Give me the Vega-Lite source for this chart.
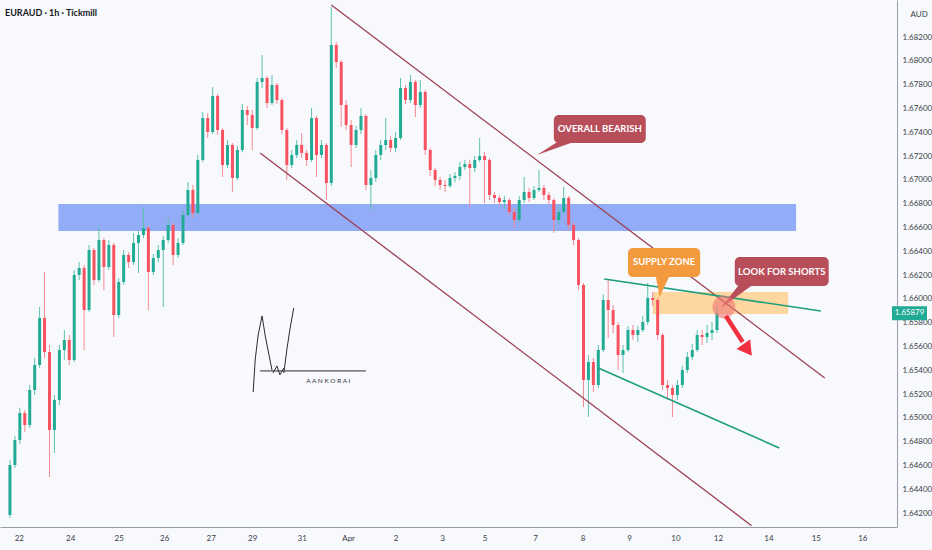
{
  "$schema": "https://vega.github.io/schema/vega-lite/v6.json",
  "width": 897,
  "height": 527,
  "autosize": {"type": "none"},
  "padding": {"left": 0, "top": 0, "right": 35, "bottom": 23},
  "background": "#f8f9fd",
  "title": {
    "text": "EURAUD · 1h · Tickmill",
    "anchor": "start",
    "frame": "group",
    "orient": "top",
    "offset": -18,
    "dx": 5,
    "fontSize": 9,
    "fontWeight": "bold",
    "color": "#131722"
  },
  "datasets": {
    "candles": [
      {"x":1,"o":1.64185,"h":1.64647,"l":1.64160,"c":1.64605},
      {"x":2,"o":1.64605,"h":1.64849,"l":1.64580,"c":1.64815},
      {"x":3,"o":1.64815,"h":1.65084,"l":1.64781,"c":1.65042},
      {"x":4,"o":1.65042,"h":1.65067,"l":1.64882,"c":1.64941},
      {"x":5,"o":1.64941,"h":1.65277,"l":1.64916,"c":1.65235},
      {"x":6,"o":1.65235,"h":1.65504,"l":1.65193,"c":1.65445},
      {"x":7,"o":1.65445,"h":1.65932,"l":1.65420,"c":1.65840},
      {"x":8,"o":1.65840,"h":1.66226,"l":1.65504,"c":1.65554},
      {"x":9,"o":1.65554,"h":1.65613,"l":1.64504,"c":1.64899},
      {"x":10,"o":1.64899,"h":1.65193,"l":1.64706,"c":1.65151},
      {"x":11,"o":1.65151,"h":1.65613,"l":1.65109,"c":1.65571},
      {"x":12,"o":1.65571,"h":1.65739,"l":1.65487,"c":1.65655},
      {"x":13,"o":1.65655,"h":1.65697,"l":1.65445,"c":1.65487},
      {"x":14,"o":1.65487,"h":1.66243,"l":1.65470,"c":1.66201},
      {"x":15,"o":1.66201,"h":1.66310,"l":1.66159,"c":1.66260},
      {"x":16,"o":1.66260,"h":1.66285,"l":1.65571,"c":1.65907},
      {"x":17,"o":1.65907,"h":1.66453,"l":1.65890,"c":1.66411},
      {"x":18,"o":1.66411,"h":1.66428,"l":1.66117,"c":1.66159},
      {"x":19,"o":1.66159,"h":1.66604,"l":1.66142,"c":1.66495},
      {"x":20,"o":1.66495,"h":1.66512,"l":1.66075,"c":1.66268},
      {"x":21,"o":1.66268,"h":1.66495,"l":1.66243,"c":1.66453},
      {"x":22,"o":1.66453,"h":1.66470,"l":1.65680,"c":1.65865},
      {"x":23,"o":1.65865,"h":1.66176,"l":1.65840,"c":1.66142},
      {"x":24,"o":1.66142,"h":1.66411,"l":1.66117,"c":1.66369},
      {"x":25,"o":1.66369,"h":1.66394,"l":1.66260,"c":1.66310},
      {"x":26,"o":1.66310,"h":1.66554,"l":1.66285,"c":1.66470},
      {"x":27,"o":1.66470,"h":1.66579,"l":1.66218,"c":1.66537},
      {"x":28,"o":1.66537,"h":1.66764,"l":1.66512,"c":1.66596},
      {"x":29,"o":1.66596,"h":1.66613,"l":1.65907,"c":1.66226},
      {"x":30,"o":1.66226,"h":1.66377,"l":1.66201,"c":1.66344},
      {"x":31,"o":1.66344,"h":1.66453,"l":1.66310,"c":1.66411},
      {"x":32,"o":1.66411,"h":1.66529,"l":1.65932,"c":1.66495},
      {"x":33,"o":1.66495,"h":1.66680,"l":1.66470,"c":1.66621},
      {"x":34,"o":1.66621,"h":1.66638,"l":1.66285,"c":1.66369},
      {"x":35,"o":1.66369,"h":1.66512,"l":1.66344,"c":1.66470},
      {"x":36,"o":1.66470,"h":1.66747,"l":1.66453,"c":1.66705},
      {"x":37,"o":1.66705,"h":1.66982,"l":1.66688,"c":1.66915},
      {"x":38,"o":1.66915,"h":1.66957,"l":1.66680,"c":1.66722},
      {"x":39,"o":1.66722,"h":1.67209,"l":1.66705,"c":1.67167},
      {"x":40,"o":1.67167,"h":1.67570,"l":1.67150,"c":1.67520},
      {"x":41,"o":1.67520,"h":1.67562,"l":1.67352,"c":1.67402},
      {"x":42,"o":1.67402,"h":1.67780,"l":1.67385,"c":1.67705},
      {"x":43,"o":1.67705,"h":1.67721,"l":1.67377,"c":1.67419},
      {"x":44,"o":1.67419,"h":1.67436,"l":1.67024,"c":1.67125},
      {"x":45,"o":1.67125,"h":1.67335,"l":1.67100,"c":1.67293},
      {"x":46,"o":1.67293,"h":1.67310,"l":1.66898,"c":1.67016},
      {"x":47,"o":1.67016,"h":1.67285,"l":1.66999,"c":1.67251},
      {"x":48,"o":1.67251,"h":1.67637,"l":1.67234,"c":1.67587},
      {"x":49,"o":1.67587,"h":1.67621,"l":1.67461,"c":1.67545},
      {"x":50,"o":1.67545,"h":1.67587,"l":1.67251,"c":1.67436},
      {"x":51,"o":1.67436,"h":1.67856,"l":1.67419,"c":1.67822},
      {"x":52,"o":1.67822,"h":1.68049,"l":1.67772,"c":1.67856},
      {"x":53,"o":1.67856,"h":1.67873,"l":1.67604,"c":1.67646},
      {"x":54,"o":1.67646,"h":1.67881,"l":1.67629,"c":1.67797},
      {"x":55,"o":1.67797,"h":1.67814,"l":1.67637,"c":1.67671},
      {"x":56,"o":1.67671,"h":1.67688,"l":1.67385,"c":1.67419},
      {"x":57,"o":1.67419,"h":1.67436,"l":1.66999,"c":1.67125},
      {"x":58,"o":1.67125,"h":1.67251,"l":1.67100,"c":1.67209},
      {"x":59,"o":1.67209,"h":1.67335,"l":1.67184,"c":1.67293},
      {"x":60,"o":1.67293,"h":1.67394,"l":1.67184,"c":1.67226},
      {"x":61,"o":1.67226,"h":1.67251,"l":1.67117,"c":1.67167},
      {"x":62,"o":1.67167,"h":1.67604,"l":1.67150,"c":1.67520},
      {"x":63,"o":1.67520,"h":1.67537,"l":1.67024,"c":1.67209},
      {"x":64,"o":1.67209,"h":1.67335,"l":1.67184,"c":1.67293},
      {"x":65,"o":1.67293,"h":1.67310,"l":1.66831,"c":1.66974},
      {"x":66,"o":1.66974,"h":1.68452,"l":1.66949,"c":1.68133},
      {"x":67,"o":1.68133,"h":1.68158,"l":1.67940,"c":1.67990},
      {"x":68,"o":1.67990,"h":1.68007,"l":1.67444,"c":1.67629},
      {"x":69,"o":1.67629,"h":1.67671,"l":1.67419,"c":1.67461},
      {"x":70,"o":1.67461,"h":1.67503,"l":1.67108,"c":1.67293},
      {"x":71,"o":1.67293,"h":1.67453,"l":1.67268,"c":1.67419},
      {"x":72,"o":1.67419,"h":1.67604,"l":1.67385,"c":1.67537},
      {"x":73,"o":1.67537,"h":1.67553,"l":1.66915,"c":1.66957},
      {"x":74,"o":1.66957,"h":1.67083,"l":1.66747,"c":1.67016},
      {"x":75,"o":1.67016,"h":1.67251,"l":1.66982,"c":1.67209},
      {"x":76,"o":1.67209,"h":1.67335,"l":1.67167,"c":1.67293},
      {"x":77,"o":1.67293,"h":1.67520,"l":1.67251,"c":1.67335},
      {"x":78,"o":1.67335,"h":1.67369,"l":1.67234,"c":1.67268},
      {"x":79,"o":1.67268,"h":1.67402,"l":1.67234,"c":1.67352},
      {"x":80,"o":1.67352,"h":1.67856,"l":1.67335,"c":1.67772},
      {"x":81,"o":1.67772,"h":1.67797,"l":1.67637,"c":1.67671},
      {"x":82,"o":1.67671,"h":1.67881,"l":1.67646,"c":1.67822},
      {"x":83,"o":1.67822,"h":1.67839,"l":1.67528,"c":1.67629},
      {"x":84,"o":1.67629,"h":1.67839,"l":1.67604,"c":1.67738},
      {"x":85,"o":1.67738,"h":1.67755,"l":1.67209,"c":1.67251},
      {"x":86,"o":1.67251,"h":1.67268,"l":1.67033,"c":1.67083},
      {"x":87,"o":1.67083,"h":1.67100,"l":1.66949,"c":1.66999},
      {"x":88,"o":1.66999,"h":1.67024,"l":1.66915,"c":1.66957},
      {"x":89,"o":1.66957,"h":1.66999,"l":1.66898,"c":1.66949},
      {"x":90,"o":1.66949,"h":1.67049,"l":1.66932,"c":1.67016},
      {"x":91,"o":1.67016,"h":1.67066,"l":1.66982,"c":1.67033},
      {"x":92,"o":1.67033,"h":1.67150,"l":1.66999,"c":1.67108},
      {"x":93,"o":1.67108,"h":1.67167,"l":1.67083,"c":1.67133},
      {"x":94,"o":1.67133,"h":1.67167,"l":1.66772,"c":1.67100},
      {"x":95,"o":1.67100,"h":1.67201,"l":1.67066,"c":1.67167},
      {"x":96,"o":1.67167,"h":1.67352,"l":1.67150,"c":1.67201},
      {"x":97,"o":1.67201,"h":1.67234,"l":1.66806,"c":1.67167},
      {"x":98,"o":1.67167,"h":1.67184,"l":1.66831,"c":1.66873},
      {"x":99,"o":1.66873,"h":1.66898,"l":1.66806,"c":1.66848},
      {"x":100,"o":1.66848,"h":1.66873,"l":1.66781,"c":1.66814},
      {"x":101,"o":1.66814,"h":1.66865,"l":1.66764,"c":1.66831},
      {"x":102,"o":1.66831,"h":1.66848,"l":1.66705,"c":1.66730},
      {"x":103,"o":1.66730,"h":1.66764,"l":1.66596,"c":1.66663},
      {"x":104,"o":1.66663,"h":1.66865,"l":1.66646,"c":1.66831},
      {"x":105,"o":1.66831,"h":1.67024,"l":1.66806,"c":1.66898},
      {"x":106,"o":1.66898,"h":1.66932,"l":1.66814,"c":1.66848},
      {"x":107,"o":1.66848,"h":1.66949,"l":1.66831,"c":1.66915},
      {"x":108,"o":1.66915,"h":1.67083,"l":1.66898,"c":1.66932},
      {"x":109,"o":1.66932,"h":1.66957,"l":1.66831,"c":1.66873},
      {"x":110,"o":1.66873,"h":1.66898,"l":1.66789,"c":1.66831},
      {"x":111,"o":1.66831,"h":1.66848,"l":1.66554,"c":1.66663},
      {"x":112,"o":1.66663,"h":1.66781,"l":1.66629,"c":1.66730},
      {"x":113,"o":1.66730,"h":1.66940,"l":1.66713,"c":1.66848},
      {"x":114,"o":1.66848,"h":1.66865,"l":1.66579,"c":1.66621},
      {"x":115,"o":1.66621,"h":1.66646,"l":1.66453,"c":1.66495},
      {"x":116,"o":1.66495,"h":1.66512,"l":1.66075,"c":1.66117},
      {"x":117,"o":1.66117,"h":1.66134,"l":1.65092,"c":1.65319},
      {"x":118,"o":1.65319,"h":1.65529,"l":1.65008,"c":1.65470},
      {"x":119,"o":1.65470,"h":1.65504,"l":1.65218,"c":1.65277},
      {"x":120,"o":1.65277,"h":1.65613,"l":1.65252,"c":1.65571},
      {"x":121,"o":1.65571,"h":1.66041,"l":1.65554,"c":1.65991},
      {"x":122,"o":1.65991,"h":1.66159,"l":1.65672,"c":1.65907},
      {"x":123,"o":1.65907,"h":1.65949,"l":1.65714,"c":1.65781},
      {"x":124,"o":1.65781,"h":1.65806,"l":1.65403,"c":1.65529},
      {"x":125,"o":1.65529,"h":1.65613,"l":1.65378,"c":1.65571},
      {"x":126,"o":1.65571,"h":1.65773,"l":1.65554,"c":1.65739},
      {"x":127,"o":1.65739,"h":1.65781,"l":1.65655,"c":1.65697},
      {"x":128,"o":1.65697,"h":1.65773,"l":1.65638,"c":1.65739},
      {"x":129,"o":1.65739,"h":1.65857,"l":1.65722,"c":1.65806},
      {"x":130,"o":1.65806,"h":1.66134,"l":1.65781,"c":1.66008},
      {"x":131,"o":1.66008,"h":1.66058,"l":1.65941,"c":1.65991},
      {"x":132,"o":1.65991,"h":1.66008,"l":1.65655,"c":1.65697},
      {"x":133,"o":1.65697,"h":1.65714,"l":1.65235,"c":1.65277},
      {"x":134,"o":1.65277,"h":1.65319,"l":1.65151,"c":1.65252},
      {"x":135,"o":1.65252,"h":1.65277,"l":1.65008,"c":1.65193},
      {"x":136,"o":1.65193,"h":1.65319,"l":1.65151,"c":1.65277},
      {"x":137,"o":1.65277,"h":1.65437,"l":1.65252,"c":1.65403},
      {"x":138,"o":1.65403,"h":1.65554,"l":1.65378,"c":1.65512},
      {"x":139,"o":1.65512,"h":1.65621,"l":1.65487,"c":1.65571},
      {"x":140,"o":1.65571,"h":1.65739,"l":1.65554,"c":1.65697},
      {"x":141,"o":1.65697,"h":1.65739,"l":1.65613,"c":1.65680},
      {"x":142,"o":1.65680,"h":1.65781,"l":1.65630,"c":1.65714},
      {"x":143,"o":1.65714,"h":1.65806,"l":1.65655,"c":1.65739},
      {"x":144,"o":1.65739,"h":1.65924,"l":1.65714,"c":1.65879}
    ],
    "zones": [
      {"k": "demand", "x": 10.8, "x2": 160, "y": 1.66797, "y2": 1.66571},
      {"k": "supply", "x": 131, "x2": 158.4, "y": 1.66058, "y2": 1.65873}
    ],
    "channel": [
      {"id": "upper", "x": 66, "y": 1.68469},
      {"id": "upper", "x": 165.8, "y": 1.65336},
      {"id": "lower", "x": 51.6, "y": 1.67226},
      {"id": "lower", "x": 151, "y": 1.64095}
    ],
    "wedge": [
      {"id": "top", "x": 121.2, "y": 1.66167},
      {"id": "top", "x": 165, "y": 1.65899},
      {"id": "bottom", "x": 120, "y": 1.65420},
      {"id": "bottom", "x": 156.6, "y": 1.64748}
    ],
    "boxes": [
      {"t": "OVERALL BEARISH", "k": "red", "x": 111, "x2": 129.6, "y": 1.67545, "y2": 1.67310, "tx": 120.3, "ty": 1.67427},
      {"t": "SUPPLY ZONE", "k": "orange", "x": 126, "x2": 140.6, "y": 1.66428, "y2": 1.66184, "tx": 133.3, "ty": 1.66306},
      {"t": "LOOK FOR SHORTS", "k": "red", "x": 147.6, "x2": 166.6, "y": 1.66352, "y2": 1.66109, "tx": 157.1, "ty": 1.66230}
    ],
    "pointers": [
      {"id": "ob", "k": "red", "x": 107.6, "y": 1.67209, "y2": 1.67209},
      {"id": "ob", "k": "red", "x": 112, "y": 1.67327, "y2": 1.67274},
      {"id": "ob", "k": "red", "x": 115.6, "y": 1.67327, "y2": 1.67327},
      {"id": "sz", "k": "orange", "x": 131.6, "y": 1.66193, "y2": 1.66193},
      {"id": "sz", "k": "orange", "x": 132.4, "y": 1.66193, "y2": 1.66016},
      {"id": "sz", "k": "orange", "x": 134.4, "y": 1.66193, "y2": 1.66193},
      {"id": "ls", "k": "red", "x": 144.8, "y": 1.65924, "y2": 1.65924},
      {"id": "ls", "k": "red", "x": 148.4, "y": 1.66117, "y2": 1.66033},
      {"id": "ls", "k": "red", "x": 151.2, "y": 1.66117, "y2": 1.66117}
    ],
    "signature": [
      {"id": "a", "k": 1, "x": 50.2, "y": 1.65218},
      {"id": "a", "k": 2, "x": 50.6, "y": 1.65487},
      {"id": "a", "k": 3, "x": 51.2, "y": 1.65697},
      {"id": "a", "k": 4, "x": 52.0, "y": 1.65857},
      {"id": "a", "k": 5, "x": 52.6, "y": 1.65697},
      {"id": "a", "k": 6, "x": 53.4, "y": 1.65529},
      {"id": "a", "k": 7, "x": 54.0, "y": 1.65403},
      {"id": "b", "k": 1, "x": 56.4, "y": 1.65378},
      {"id": "b", "k": 2, "x": 57.0, "y": 1.65571},
      {"id": "b", "k": 3, "x": 57.6, "y": 1.65739},
      {"id": "b", "k": 4, "x": 58.4, "y": 1.65924},
      {"id": "c", "k": 1, "x": 51.6, "y": 1.65395},
      {"id": "c", "k": 2, "x": 73.0, "y": 1.65395},
      {"id": "d", "k": 1, "x": 54.2, "y": 1.65378},
      {"id": "d", "k": 2, "x": 55.0, "y": 1.65437},
      {"id": "d", "k": 3, "x": 55.6, "y": 1.65362},
      {"id": "d", "k": 4, "x": 56.4, "y": 1.65420}
    ]
  },
  "layer": [
    {
      "data": {"name": "zones"},
      "mark": {"type": "rect"},
      "encoding": {
        "x": {
          "field": "x",
          "type": "quantitative",
          "scale": {"domain": [0, 179.4], "nice": false, "zero": false},
          "axis": {
            "orient": "bottom",
            "title": null,
            "grid": false,
            "ticks": false,
            "tickCount": 40,
            "values": [2.8, 13.2, 23, 32.2, 41.6, 50, 60, 69.4, 79, 88.4, 97, 107.2, 116.8, 126.2, 135.6, 144.2, 154.4, 164, 173.4],
            "labelExpr": "['22','24','25','26','27','29','31','Apr','2','3','5','7','8','9','10','12','14','15','16'][indexof([28,132,230,322,416,500,600,694,790,884,970,1072,1168,1262,1356,1442,1544,1640,1734], round(datum.value*10))]",
            "labelFontWeight": {"condition": {"test": "datum.label == 'Apr'", "value": "bold"}, "value": "normal"},
            "labelFontSize": 8,
            "labelColor": "#3a3d46",
            "labelPadding": 7,
            "labelFlush": false,
            "labelOverlap": false,
            "domainColor": "#9a9da6"
          }
        },
        "x2": {"field": "x2"},
        "y": {
          "field": "y",
          "type": "quantitative",
          "scale": {"domain": [1.64084, 1.68511], "nice": false, "zero": false},
          "axis": {
            "orient": "right",
            "tickCount": 40,
            "values": [1.642, 1.644, 1.646, 1.648, 1.65, 1.652, 1.654, 1.656, 1.658, 1.66, 1.662, 1.664, 1.666, 1.668, 1.67, 1.672, 1.674, 1.676, 1.678, 1.68, 1.682],
            "format": ".5f",
            "grid": false,
            "ticks": false,
            "labelOverlap": false,
            "labelFontSize": 8,
            "labelColor": "#3a3d46",
            "labelPadding": 5,
            "domainColor": "#9a9da6",
            "title": "AUD",
            "titleAngle": 0,
            "titleX": 13,
            "titleY": 14,
            "titleAlign": "left",
            "titleBaseline": "middle",
            "titleFontSize": 8,
            "titleFontWeight": "normal",
            "titleColor": "#3a3d46"
          }
        },
        "y2": {"field": "y2"},
        "color": {"field": "k", "type": "nominal", "scale": {"domain": ["demand", "supply", "red", "orange"], "range": ["#93acf7", "#fdd6a0", "#b94e5b", "#f39a3e"]}, "legend": null}
      }
    },
    {
      "data": {"name": "candles"},
      "mark": {"type": "rule", "strokeWidth": 1},
      "encoding": {
        "x": {"field": "x", "type": "quantitative"},
        "y": {"field": "l", "type": "quantitative"},
        "y2": {"field": "h"},
        "color": {"condition": {"test": "datum.c >= datum.o", "value": "#5cc1ae"}, "value": "#f58a93"}
      }
    },
    {
      "data": {"name": "candles"},
      "mark": {"type": "bar", "size": 3},
      "encoding": {
        "x": {"field": "x", "type": "quantitative"},
        "y": {"field": "o", "type": "quantitative"},
        "y2": {"field": "c"},
        "color": {"condition": {"test": "datum.c >= datum.o", "value": "#22ab94"}, "value": "#f7525f"}
      }
    },
    {
      "data": {"name": "channel"},
      "mark": {"type": "line", "strokeWidth": 1.3, "color": "#9c3f50"},
      "encoding": {
        "x": {"field": "x", "type": "quantitative"},
        "y": {"field": "y", "type": "quantitative"},
        "detail": {"field": "id"}
      }
    },
    {
      "data": {"name": "wedge"},
      "mark": {"type": "line", "strokeWidth": 1.6, "color": "#1d9e7d"},
      "encoding": {
        "x": {"field": "x", "type": "quantitative"},
        "y": {"field": "y", "type": "quantitative"},
        "detail": {"field": "id"}
      }
    },
    {
      "data": {"name": "pointers"},
      "mark": {"type": "area"},
      "encoding": {
        "x": {"field": "x", "type": "quantitative"},
        "y": {"field": "y", "type": "quantitative"},
        "y2": {"field": "y2"},
        "detail": {"field": "id"},
        "color": {"field": "k", "type": "nominal", "scale": {"domain": ["demand", "supply", "red", "orange"], "range": ["#93acf7", "#fdd6a0", "#b94e5b", "#f39a3e"]}, "legend": null}
      }
    },
    {
      "data": {"name": "boxes"},
      "mark": {"type": "rect", "cornerRadius": 5},
      "encoding": {
        "x": {"field": "x", "type": "quantitative"},
        "x2": {"field": "x2"},
        "y": {"field": "y", "type": "quantitative"},
        "y2": {"field": "y2"},
        "color": {"field": "k", "type": "nominal", "scale": {"domain": ["demand", "supply", "red", "orange"], "range": ["#93acf7", "#fdd6a0", "#b94e5b", "#f39a3e"]}, "legend": null}
      }
    },
    {
      "data": {"name": "boxes"},
      "mark": {"type": "text", "color": "white", "fontSize": 9.5, "fontWeight": "bold", "align": "center", "baseline": "middle"},
      "encoding": {
        "x": {"field": "tx", "type": "quantitative"},
        "y": {"field": "ty", "type": "quantitative"},
        "text": {"field": "t"}
      }
    },
    {
      "data": {"values": [{"x": 145.4, "y": 1.65932}]},
      "mark": {"type": "point", "filled": true, "size": 520, "color": "#f07474", "opacity": 0.6},
      "encoding": {
        "x": {"field": "x", "type": "quantitative"},
        "y": {"field": "y", "type": "quantitative"}
      }
    },
    {
      "data": {"values": [{"x": 145.8, "y": 1.65857, "x2": 149.2, "y2": 1.65638}]},
      "mark": {"type": "rule", "strokeWidth": 4.5, "color": "#f0303e"},
      "encoding": {
        "x": {"field": "x", "type": "quantitative"},
        "x2": {"field": "x2"},
        "y": {"field": "y", "type": "quantitative"},
        "y2": {"field": "y2"}
      }
    },
    {
      "data": {"values": [{"x": 150.2, "y": 1.65571}]},
      "mark": {"type": "point", "shape": "triangle-down", "filled": true, "size": 280, "angle": -36, "color": "#f0303e", "opacity": 1},
      "encoding": {
        "x": {"field": "x", "type": "quantitative"},
        "y": {"field": "y", "type": "quantitative"}
      }
    },
    {
      "data": {"name": "signature"},
      "mark": {"type": "line", "strokeWidth": 1, "color": "#2b2b2b"},
      "encoding": {
        "x": {"field": "x", "type": "quantitative"},
        "y": {"field": "y", "type": "quantitative"},
        "detail": {"field": "id"},
        "order": {"field": "k"}
      }
    },
    {
      "data": {"values": [{"x": 65.4, "y": 1.65311, "t": "A  A  N  K  O    R  A  I"}]},
      "mark": {"type": "text", "fontSize": 6.5, "color": "#333333"},
      "encoding": {
        "x": {"field": "x", "type": "quantitative"},
        "y": {"field": "y", "type": "quantitative"},
        "text": {"field": "t"}
      }
    },
    {
      "data": {"values": [{"x": 179.4, "y": 1.65879}]},
      "mark": {"type": "point", "shape": "M-1,-0.4H1V0.4H-1Z", "filled": true, "size": 1225, "xOffset": 17.5, "color": "#22ab94", "opacity": 1},
      "encoding": {
        "x": {"field": "x", "type": "quantitative"},
        "y": {"field": "y", "type": "quantitative"}
      }
    },
    {
      "data": {"values": [{"x": 179.4, "y": 1.65879, "t": "1.65879"}]},
      "mark": {"type": "text", "xOffset": 17.5, "fontSize": 8, "color": "white", "align": "center", "baseline": "middle"},
      "encoding": {
        "x": {"field": "x", "type": "quantitative"},
        "y": {"field": "y", "type": "quantitative"},
        "text": {"field": "t"}
      }
    }
  ],
  "config": {
    "font": "Lato, Roboto, sans-serif",
    "view": {"stroke": null},
    "axis": {"labelOverlap": false}
  }
}
